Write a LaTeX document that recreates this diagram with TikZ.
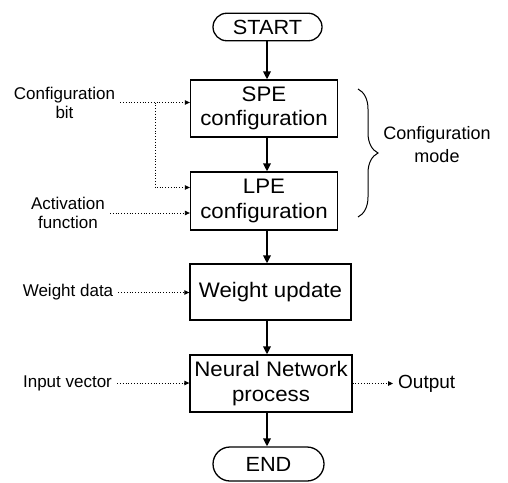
\documentclass[tikz,border=0pt]{standalone}
\usepackage{fontspec}
\setmainfont{Liberation Sans}
\newfontfamily\boxfont[FakeStretch=1.06]{Liberation Sans}
\usetikzlibrary{arrows.meta,decorations.pathreplacing,shapes.misc,calc}

\begin{document}
\begin{tikzpicture}[x=1pt,y=-1pt,
  procbox/.style={draw,line width=1.3pt,fill=white,inner sep=0pt,align=center,
    font=\boxfont\fontsize{21}{24.5}\selectfont},
  term/.style={draw,rounded rectangle,line width=1.3pt,fill=white,inner sep=0pt,
    font=\boxfont\fontsize{20.5}{24.5}\selectfont},
  lbl/.style={inner ysep=2pt,inner xsep=5pt,align=center,font=\fontsize{17}{19}\selectfont},
  flow/.style={line width=1.8pt,-{Triangle[length=8pt,width=7.5pt]}},
  feed/.style={line width=0.8pt,dotted,-{Triangle[length=5pt,width=4.5pt]}}]

\useasboundingbox (0,0) rectangle (508,482);

% main flow
\node[term,minimum width=109pt,minimum height=27.5pt] (start) at (267.5,27) {START};
\node[procbox,minimum width=147pt,minimum height=57pt] (spe) at (264,108.5) {SPE\\configuration};
\node[procbox,minimum width=147pt,minimum height=58pt] (lpe) at (264,201) {LPE\\configuration};
\node[procbox,minimum width=161pt,minimum height=56pt] (wu) at (270.5,292) {Weight update};
\node[procbox,minimum width=162pt,minimum height=57pt] (nn) at (271,383.5) {Neural Network\\process};
\node[term,minimum width=111pt,minimum height=34pt] (end) at (268.5,464) {END};

\coordinate (spine) at (267,0);
\draw[flow] (spine |- start.south) -- (spine |- spe.north);
\draw[flow] (spine |- spe.south) -- (spine |- lpe.north);
\draw[flow] (spine |- lpe.south) -- (spine |- wu.north);
\draw[flow] (spine |- wu.south) -- (spine |- nn.north);
\draw[flow] (spine |- nn.south) -- (spine |- end.north);

% inputs on the left
\node[lbl] (cbit) at (64.5,102.5) {Configuration\\bit};
\node[lbl] (act) at (68,213) {Activation\\function};
\node[lbl] (wd) at (68,292.5) {Weight data};
\node[lbl] (iv) at (67.5,383) {Input vector};

\draw[feed] (cbit.east) -- (cbit.east -| spe.west);
\coordinate (br) at (155,102.5);
\coordinate (lpein) at ($(lpe.west)+(0,-13.5)$);
\draw[feed] (br) -- (br |- lpein) -- (lpein);
\draw[feed] (act.east) -- (act.east -| lpe.west);
\draw[feed] (wd.east) -- (wd.east -| wu.west);
\draw[feed] (iv.east) -- (iv.east -| nn.west);

% output
\node[inner sep=0pt,anchor=west,font=\fontsize{19}{19}\selectfont] (out) at (398,383.5) {Output};
\draw[feed,shorten >=5pt] (nn.east) -- (out.west);

% configuration mode brace
\coordinate (btop) at (358,89);
\coordinate (bbot) at (358,217);
\draw[line width=1pt,decorate,decoration={brace,amplitude=20pt}] (btop) -- (bbot);
\node[lbl,font=\fontsize{18}{23}\selectfont] (cmode) at (437,145) {Configuration\\mode};

\end{tikzpicture}
\end{document}
